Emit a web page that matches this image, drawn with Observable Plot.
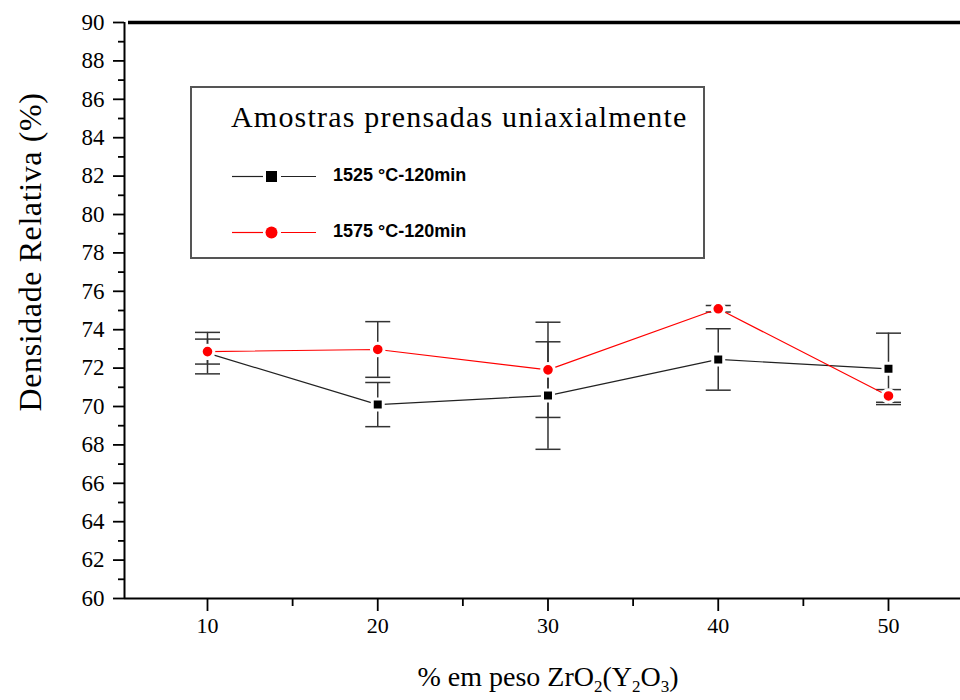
<!DOCTYPE html>
<html><head><meta charset="utf-8">
<script src="https://cdn.jsdelivr.net/npm/d3@7"></script>
<script src="https://cdn.jsdelivr.net/npm/@observablehq/plot@0.6"></script>
<style>
body{margin:0;background:#fff;}
#wrap{position:relative;width:960px;height:700px;overflow:hidden;}
#legend{position:absolute;left:190px;top:86px;width:511px;height:169px;border:2px solid #555;background:#fff;box-sizing:content-box;}
#legend .title{position:absolute;left:39px;top:12px;font-family:"Liberation Serif","Times New Roman",serif;font-size:30px;letter-spacing:1.2px;white-space:nowrap;color:#000;}
#legend .item{position:absolute;left:38px;height:20px;white-space:nowrap;}
#legend .item svg{position:absolute;left:0;top:0;}
#legend .item span{position:absolute;left:103px;top:-2px;font-family:"Liberation Sans",Arial,sans-serif;font-weight:bold;font-size:18px;color:#000;}
#ylab{position:absolute;left:30px;top:252px;transform:translate(-50%,-50%) rotate(-90deg);font-family:"Liberation Serif","Times New Roman",serif;font-size:32px;letter-spacing:0.6px;white-space:nowrap;color:#000;}
#xlab{position:absolute;left:548px;top:677px;transform:translate(-50%,-50%);font-family:"Liberation Serif","Times New Roman",serif;font-size:28px;white-space:nowrap;color:#000;}
#xlab sub{font-size:17px;vertical-align:-6px;line-height:0;}
</style></head><body><div id="wrap"></div>
<script>
// ---- data ----
const zro2 = [10, 20, 30, 40, 50];
const dens1525 = [72.78, 70.10, 70.57, 72.45, 71.96];
const err1525 = [1.08, 1.15, 2.80, 1.60, 1.86];
const dens1575 = [72.86, 72.97, 71.91, 75.09, 70.55];
const err1575 = [0.65, 1.45, 2.48, 0.17, 0.33];
const seriesNames = ["1525 °C-120min", "1575 °C-120min"];
const legendTitle = "Amostras prensadas uniaxialmente";
const yTitle = "Densidade Relativa (%)";
const yTicks = d3.range(60, 91, 2);
const yMinor = d3.range(61, 90, 2);
const xTicks = [10, 20, 30, 40, 50];
const xMinor = [15, 25, 35, 45];

const s1 = zro2.map((x, i) => ({x, y: dens1525[i], e: err1525[i]}));
const s2 = zro2.map((x, i) => ({x, y: dens1575[i], e: err1575[i]}));
const xDomain = [5.125, 54.23];
const yDomain = [60, 90];
const serif = "Liberation Serif";
const noLabel = () => "";

const capSymbol = {draw(ctx) { ctx.moveTo(-12.5, 0); ctx.lineTo(12.5, 0); }};
const errColor = "#333";

function errMarks(s) {
  return [
    Plot.ruleX(s, {x: "x", y1: d => d.y - d.e, y2: d => d.y + d.e, stroke: errColor, strokeWidth: 1.5}),
    Plot.dot(s, {x: "x", y: d => d.y + d.e, symbol: capSymbol, stroke: errColor, strokeWidth: 1.5, fill: "none", r: 5}),
    Plot.dot(s, {x: "x", y: d => d.y - d.e, symbol: capSymbol, stroke: errColor, strokeWidth: 1.5, fill: "none", r: 5})
  ];
}

const chart = Plot.plot({
  width: 960, height: 700,
  marginLeft: 124, marginRight: 0, marginTop: 22, marginBottom: 102,
  style: {background: "#fff", overflow: "visible"},
  x: {type: "linear", domain: xDomain, label: null},
  y: {type: "linear", domain: yDomain, label: null},
  marks: [
    Plot.axisY(yTicks, {tickSize: 11, tickFormat: noLabel, strokeWidth: 1.8, stroke: "#000"}),
    Plot.axisY(yMinor, {tickSize: 6, tickFormat: noLabel, strokeWidth: 1.8, stroke: "#000"}),
    Plot.axisX(xTicks, {tickSize: 13, tickFormat: noLabel, strokeWidth: 1.8, stroke: "#000"}),
    Plot.axisX(xMinor, {tickSize: 8, tickFormat: noLabel, strokeWidth: 1.8, stroke: "#000"}),
    Plot.text(yTicks, {y: d => d, frameAnchor: "left", dx: -20, textAnchor: "end", text: d => String(d), fontFamily: serif, fontSize: 23, fill: "#000"}),
    Plot.text(xTicks, {x: d => d, frameAnchor: "bottom", dy: 34, text: d => String(d), fontFamily: serif, fontSize: 22, fill: "#000"}),
    Plot.ruleY([yDomain[0]], {stroke: "#000", strokeWidth: 2}),
    Plot.ruleX([xDomain[0]], {stroke: "#000", strokeWidth: 2}),
    Plot.ruleY([yDomain[1]], {stroke: "#000", strokeWidth: 3.5, insetLeft: 4}),
    ...errMarks(s1),
    ...errMarks(s2),
    Plot.line(s1, {x: "x", y: "y", stroke: "#222", strokeWidth: 1.2}),
    Plot.line(s2, {x: "x", y: "y", stroke: "#ff0000", strokeWidth: 1.2}),
    Plot.dot(s1, {x: "x", y: "y", symbol: "square", r: 6.2, fill: "#000", stroke: "#fff", strokeWidth: 3}),
    Plot.dot(s2, {x: "x", y: "y", symbol: "circle", r: 6.3, fill: "#ff0000", stroke: "#fff", strokeWidth: 3})
  ]
});

const wrap = document.getElementById("wrap");
wrap.appendChild(chart);

// legend overlay
const legend = document.createElement("div");
legend.id = "legend";
const t = document.createElement("div");
t.className = "title"; t.textContent = legendTitle;
legend.appendChild(t);
const styles = [{color: "#222", shape: "square"}, {color: "#ff0000", shape: "circle"}];
const itemTops = [79, 135];
seriesNames.forEach((name, i) => {
  const it = document.createElement("div");
  it.className = "item"; it.style.top = itemTops[i] + "px";
  const st = styles[i];
  const sym = st.shape === "square"
    ? `<rect x="36" y="4" width="11" height="11" fill="#000"/>`
    : `<circle cx="41.5" cy="9.5" r="6" fill="#ff0000"/>`;
  it.innerHTML = `<svg width="90" height="20"><line x1="2" x2="33" y1="9.5" y2="9.5" stroke="${st.color}" stroke-width="1.2"/><line x1="51" x2="86" y1="9.5" y2="9.5" stroke="${st.color}" stroke-width="1.2"/>${sym}</svg><span>${name}</span>`;
  legend.appendChild(it);
});
wrap.appendChild(legend);

const yl = document.createElement("div");
yl.id = "ylab"; yl.textContent = yTitle;
wrap.appendChild(yl);
const xl = document.createElement("div");
xl.id = "xlab"; xl.innerHTML = "% em peso ZrO<sub>2</sub>(Y<sub>2</sub>O<sub>3</sub>)";
wrap.appendChild(xl);
</script></body></html>
